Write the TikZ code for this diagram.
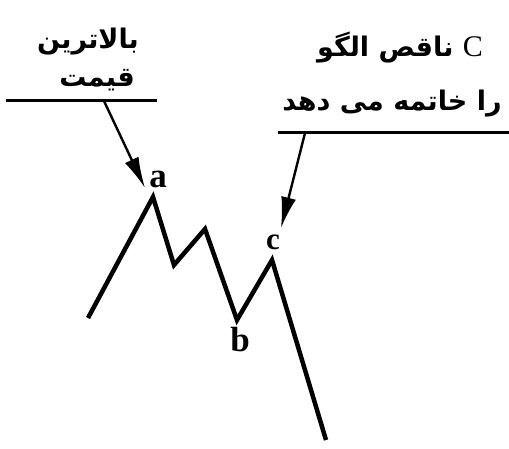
\documentclass[tikz,border=0pt]{standalone}
\usepackage{fontspec}
\usetikzlibrary{arrows.meta}
\TeXXeTstate=1
\newfontfamily\fa[Script=Arabic]{DejaVu Sans}
\newfontfamily\ser{Liberation Serif}
\tikzset{
  wave/.style={line width=4.5pt, line join=miter, line cap=butt},
  rule/.style={line width=3pt},
  pointer/.style={line width=2.4pt, -{Latex[length=31pt,width=15pt]}},
  falabel/.style={inner sep=0pt, font=\fa\bfseries\fontsize{27}{30}\selectfont},
  ptlabel/.style={inner sep=0pt, font=\ser\bfseries\fontsize{35}{36}\selectfont}
}
\begin{document}
\begin{tikzpicture}[x=1pt,y=-1pt]
\useasboundingbox (0,0) rectangle (509,448);
% wave
\coordinate (s) at (88,318);
\coordinate (pa) at (153,197);
\coordinate (v1) at (174,265);
\coordinate (p2) at (205,229);
\coordinate (pb) at (237,320);
\coordinate (pc) at (272,260);
\coordinate (e) at (326,440);
\draw[wave] (s) -- (pa) -- (v1) -- (p2) -- (pb) -- (pc) -- (e);
% point labels
\node[ptlabel] (la) at (158,179) {a};
\node[ptlabel] (lb) at (240,340) {b};
\node[ptlabel, font=\ser\bfseries\fontsize{31}{32}\selectfont] (lc) at (273,242) {c};
% left note
\node[falabel] (t1) at (88,42) {\beginR بالاترین\endR};
\node[falabel] (t2) at (97,80) {\beginR قیمت\endR};
\coordinate (r1a) at (6,100);
\coordinate (r1b) at (157,100);
\draw[rule] (r1a) -- (r1b);
\coordinate (a1s) at (104,101);
\coordinate (a1e) at (145,188);
\draw[pointer] (a1s) -- (a1e);
% right note
\node[falabel] (t3) at (400,48) {\beginR{\ser\mdseries\fontsize{30}{30}\selectfont C} ناقص الگو\endR};
\node[falabel] (t4) at (392,104) {\beginR را خاتمه می دهد\endR};
\coordinate (r2a) at (278,132);
\coordinate (r2b) at (509,132);
\draw[rule] (r2a) -- (r2b);
\coordinate (a2s) at (305,133);
\coordinate (a2e) at (281,228);
\draw[pointer] (a2s) -- (a2e);
\end{tikzpicture}
\end{document}
